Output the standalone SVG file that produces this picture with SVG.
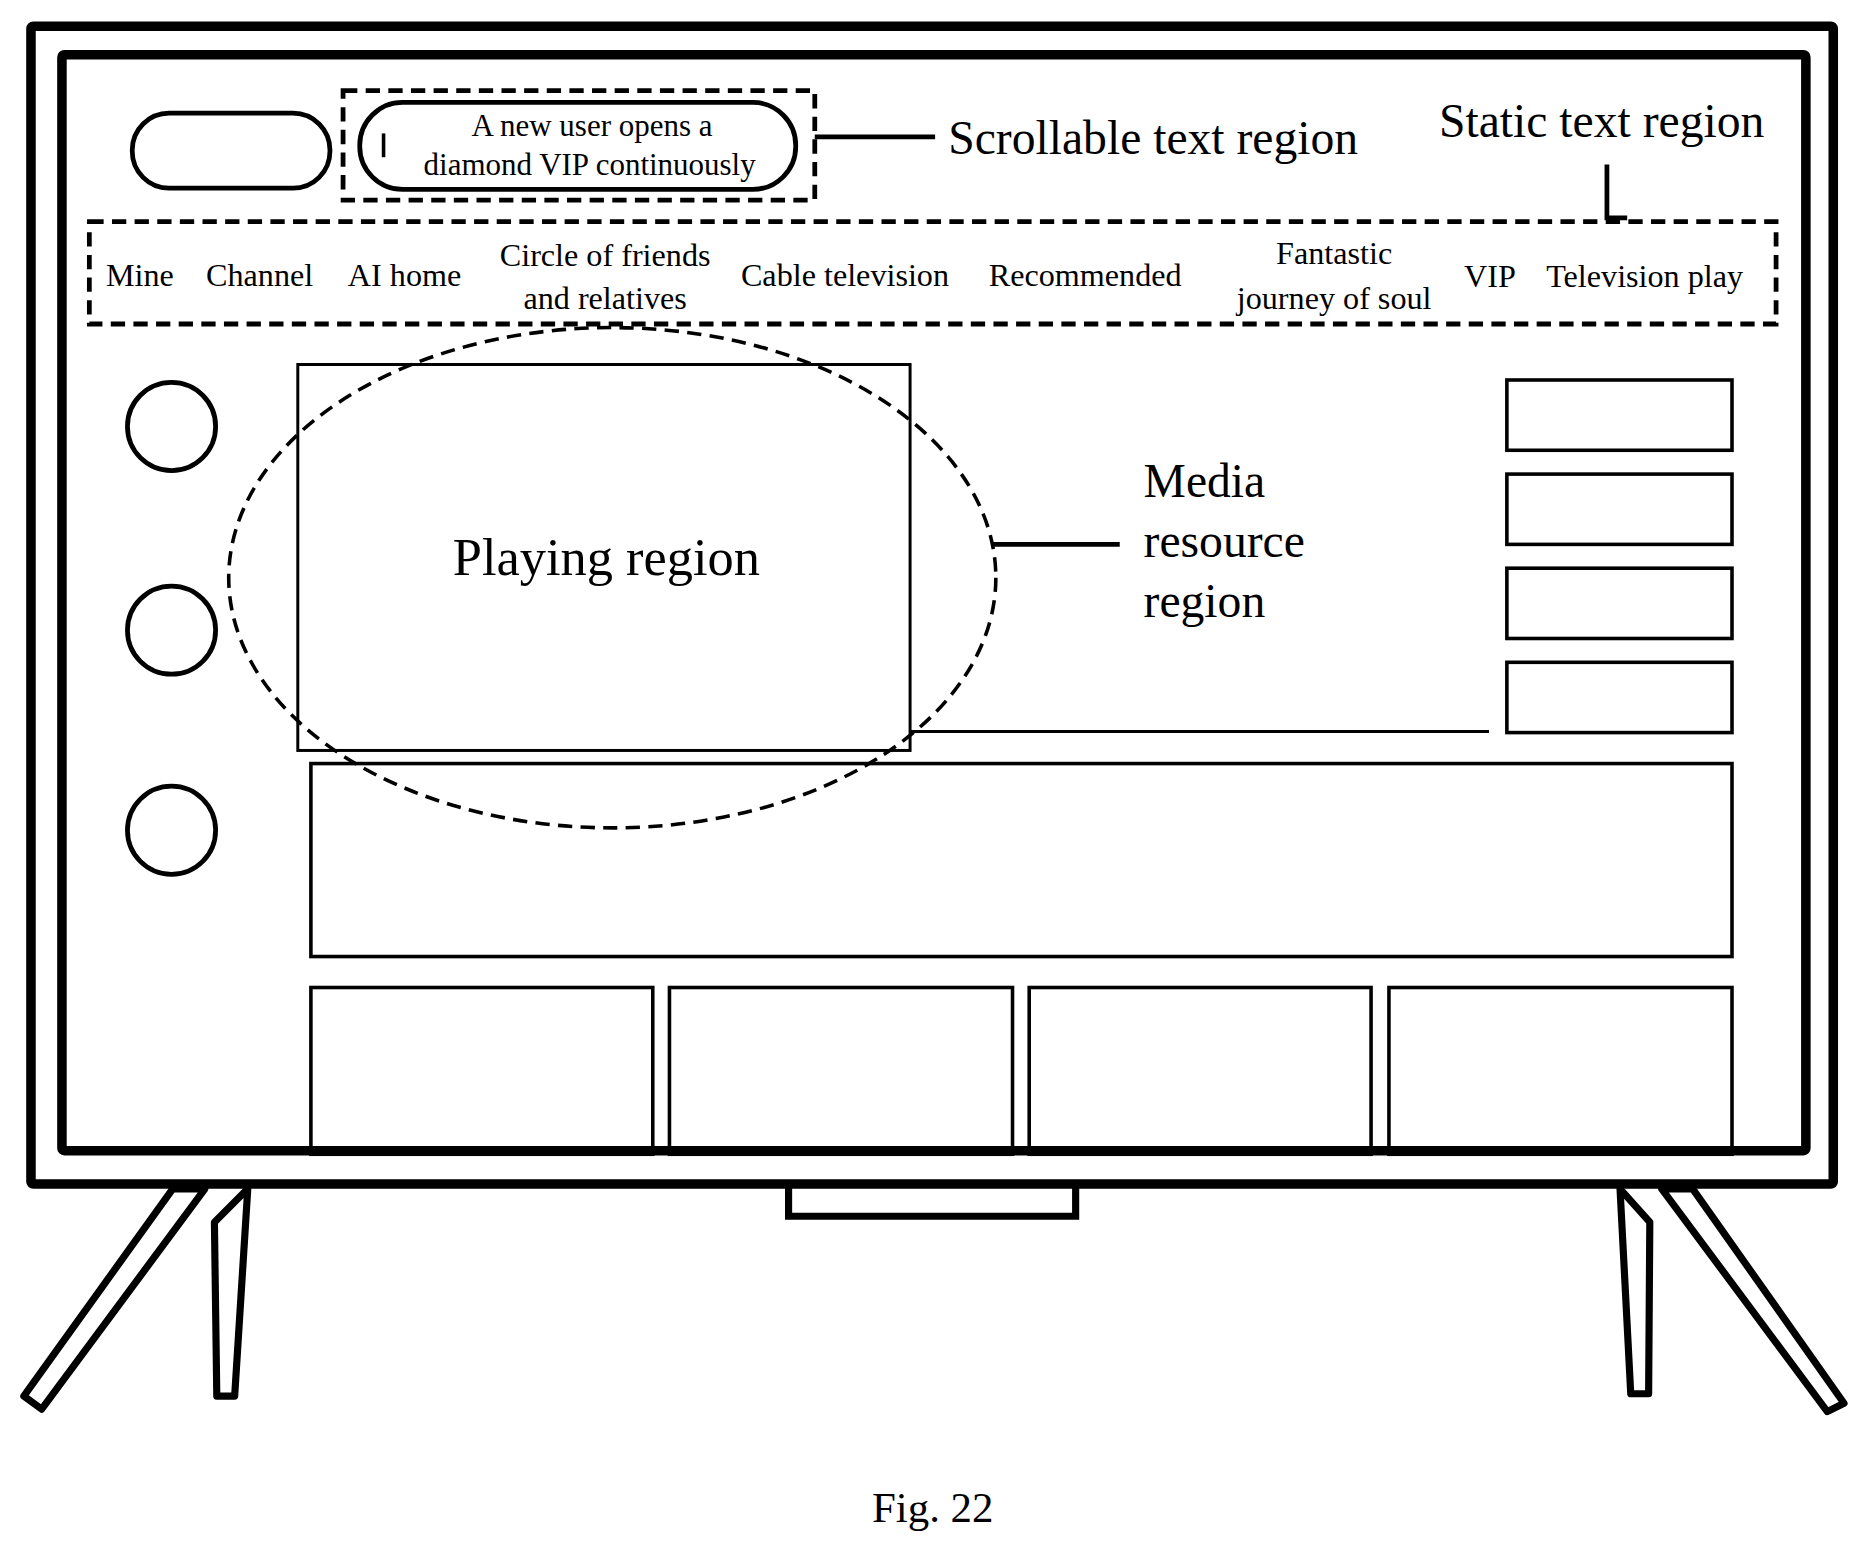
<svg xmlns="http://www.w3.org/2000/svg" width="1863" height="1549" viewBox="0 0 1863 1549">
<style>
.s{fill:none;stroke:#000}
.t{font-family:"Liberation Serif",serif;fill:#000}
.d{stroke-dasharray:12 7}
</style>
<rect width="1863" height="1549" fill="#fff"/>
<g transform="scale(1.1912)">
<g id="tv">
<rect class="s" x="26" y="22" width="1513" height="972" stroke-width="8" rx="2"/>
<rect class="s" x="52" y="46" width="1464" height="920" stroke-width="8" rx="2"/>
<path class="s" d="M662,997 V1021 H903 V997" stroke-width="6"/>
<polygon class="s" points="145,998 172,998 35,1183 20,1172" stroke-width="6" stroke-linejoin="round"/>
<polygon class="s" points="208,998 197,1172 182,1172 180,1026" stroke-width="6" stroke-linejoin="round"/>
<polygon class="s" points="1360,998 1369,1170 1384,1170 1385,1026" stroke-width="6" stroke-linejoin="round"/>
<polygon class="s" points="1395,998 1421,998 1548,1178 1534,1185" stroke-width="6" stroke-linejoin="round"/>
</g>
<g id="top">
<rect class="s" x="111" y="95" width="166" height="63" rx="31" stroke-width="4"/>
<rect class="s d" x="288" y="76" width="396" height="92" stroke-width="4"/>
<rect class="s" x="302" y="86" width="366" height="73" rx="36" stroke-width="4"/>
<line class="s" x1="322" y1="112" x2="322" y2="132" stroke-width="3"/>
<text class="t" x="497" y="114" font-size="26" text-anchor="middle">A new user opens a</text>
<text class="t" x="495" y="147" font-size="26" text-anchor="middle">diamond VIP continuously</text>
</g>
<g id="labels">
<text class="t" x="796" y="129" font-size="40">Scrollable text region</text>
<text class="t" x="1208" y="115" font-size="40">Static text region</text>
<text class="t" x="960" y="417" font-size="40">Media</text>
<text class="t" x="960" y="468" font-size="40">resource</text>
<text class="t" x="960" y="518" font-size="40">region</text>
</g>
<g id="nav">
<rect class="s d" x="75" y="186" width="1416" height="86" stroke-width="4"/>
<g class="t" font-size="27">
<text x="89" y="240">Mine</text>
<text x="173" y="240">Channel</text>
<text x="292" y="240">AI home</text>
<text x="508" y="223" text-anchor="middle">Circle of friends</text>
<text x="508" y="259" text-anchor="middle">and relatives</text>
<text x="622" y="240">Cable television</text>
<text x="830" y="240">Recommended</text>
<text x="1120" y="222" text-anchor="middle">Fantastic</text>
<text x="1120" y="259" text-anchor="middle">journey of soul</text>
<text x="1229" y="241">VIP</text>
<text x="1298" y="241">Television play</text>
</g>
</g>
<g id="content">
<circle class="s" cx="144" cy="358" r="37" stroke-width="4"/>
<circle class="s" cx="144" cy="529" r="37" stroke-width="4"/>
<circle class="s" cx="144" cy="697" r="37" stroke-width="4"/>
<rect class="s" x="250" y="306" width="514" height="324" stroke-width="2.5"/>
<text class="t" x="509" y="483" font-size="44" text-anchor="middle">Playing region</text>
<ellipse class="s d" cx="514" cy="485" rx="322" ry="210" stroke-width="3"/>
<rect class="s" x="1265" y="319" width="189" height="59" stroke-width="3"/>
<rect class="s" x="1265" y="398" width="189" height="59" stroke-width="3"/>
<rect class="s" x="1265" y="477" width="189" height="59" stroke-width="3"/>
<rect class="s" x="1265" y="556" width="189" height="59" stroke-width="3"/>
<rect class="s" x="261" y="641" width="1193" height="162" stroke-width="3"/>
<rect class="s" x="261" y="829" width="287" height="140" stroke-width="3"/>
<rect class="s" x="562" y="829" width="288" height="140" stroke-width="3"/>
<rect class="s" x="864" y="829" width="287" height="140" stroke-width="3"/>
<rect class="s" x="1166" y="829" width="288" height="140" stroke-width="3"/>
</g>
<g id="connectors" class="s">
<line x1="684" y1="115" x2="785" y2="115" stroke-width="4"/>
<path d="M1349,138 V183 H1366" stroke-width="4"/>
<line x1="833" y1="457" x2="940" y2="457" stroke-width="4"/>
<line x1="764" y1="614" x2="1250" y2="614" stroke-width="2.5"/>
</g>
<text class="t" x="783" y="1278" font-size="36" text-anchor="middle">Fig. 22</text>
</g>
</svg>
